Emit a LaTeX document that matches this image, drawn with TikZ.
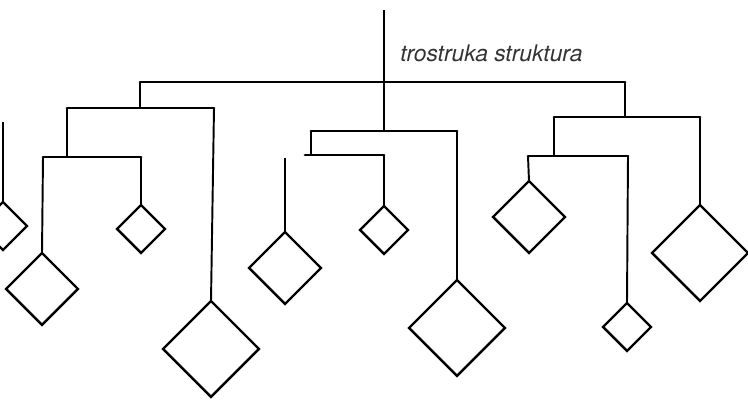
\documentclass[tikz,border=0pt]{standalone}
\usepackage{fontspec}
\setsansfont{TeX Gyre Heros}
\usetikzlibrary{shapes.geometric}
\tikzset{
  bob/.style={draw, diamond, aspect=1, inner sep=0pt, outer sep=0pt, line width=1.4pt, line join=miter},
  bobS/.style={bob, minimum size=0.96cm},
  bobM/.style={bob, minimum size=1.44cm},
  bobL/.style={bob, minimum size=1.92cm},
  rod/.style={line width=1.1pt},
  bar/.style={line width=1.6pt, line cap=round}
}
\begin{document}
\begin{tikzpicture}[x=0.02cm, y=-0.02cm]
  \useasboundingbox (0,0) rectangle (748,401);
  \clip (0,0) rectangle (748,401);

  % Weights
  \node[bobS] (L) at (3,226) {};
  \node[bobS] (A) at (141,229) {};
  \node[bobM] (B) at (42,289) {};
  \node[bobL] (C) at (211,349) {};
  \node[bobM] (D) at (285,268) {};
  \node[bobS] (E) at (384,230) {};
  \node[bobL] (F) at (457,328) {};
  \node[bobM] (G) at (529,217) {};
  \node[bobS] (H) at (627,327) {};
  \node[bobL] (I) at (700,253) {};

  % Hook and main bar
  \coordinate (hook) at (384,10);
  \coordinate (hub) at (384,82);
  \coordinate (mL) at (140,82);
  \coordinate (mR) at (625,82);
  \draw[rod] (hook) -- (hub);
  \draw[bar] (mL) -- (mR);

  % Left branch
  \coordinate (l1) at (140,108);
  \coordinate (l1L) at (67,108);
  \coordinate (l1R) at (214,108);
  \coordinate (l2) at (67,157);
  \coordinate (l2L) at (43,157);
  \coordinate (l2R) at (141,157);
  \draw[rod] (mL) -- (l1);
  \draw[bar] (l1L) -- (l1R);
  \draw[rod] (l1R) -- (C.north);
  \draw[rod] (l1L) -- (l2);
  \draw[bar] (l2L) -- (l2R);
  \draw[rod] (l2R) -- (A.north);
  \draw[rod] (l2L) -- (B.north);

  % Middle branch
  \coordinate (c1) at (384,131);
  \coordinate (c1L) at (311,131);
  \coordinate (c1R) at (457,131);
  \coordinate (c2) at (311,155);
  \coordinate (c2L) at (305,155);
  \coordinate (c2R) at (384,155);
  \draw[rod] (hub) -- (c1);
  \draw[bar] (c1L) -- (c1R);
  \draw[rod] (c1R) -- (F.north);
  \draw[rod] (c1L) -- (c2);
  \draw[bar] (c2L) -- (c2R);
  \draw[rod] (c2R) -- (E.north);
  \coordinate (d0) at (285,158);
  \draw[rod] (d0) -- (D.north);

  % Right branch
  \coordinate (r1) at (625,117);
  \coordinate (r1L) at (554,117);
  \coordinate (r1R) at (700,117);
  \coordinate (r2) at (554,156);
  \coordinate (r2L) at (528,156);
  \coordinate (r2R) at (628,156);
  \draw[rod] (mR) -- (r1);
  \draw[bar] (r1L) -- (r1R);
  \draw[rod] (r1R) -- (I.north);
  \draw[rod] (r1L) -- (r2);
  \draw[bar] (r2L) -- (r2R);
  \draw[rod] (r2L) -- (G.north);
  \draw[rod] (r2R) -- (H.north);

  % Far left, cut off
  \coordinate (e0) at (3,122);
  \draw[rod] (e0) -- (L.north);

  % Label
  \node[anchor=base west, inner sep=0pt, text=black!80,
        font=\sffamily\itshape\fontsize{13}{15}\selectfont] (title) at (400,62) {trostruka struktura};
\end{tikzpicture}
\end{document}
